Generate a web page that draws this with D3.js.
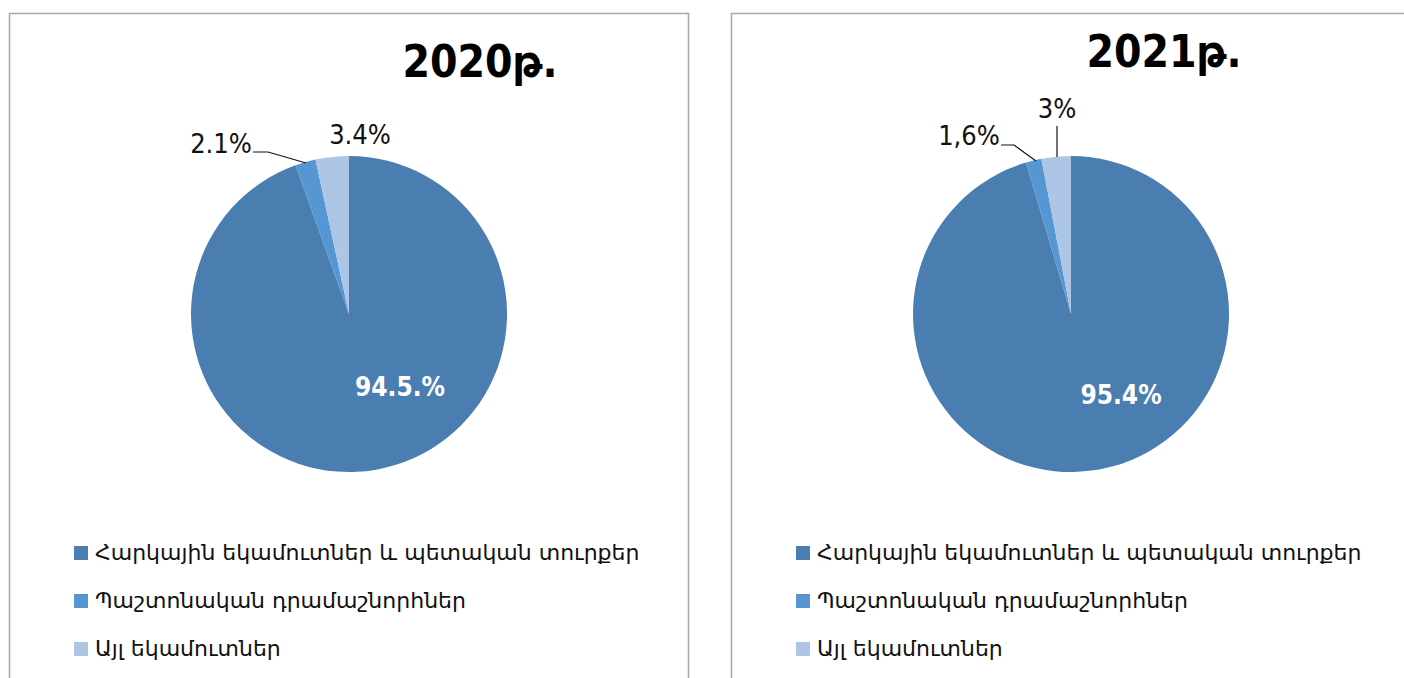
<!DOCTYPE html>
<html lang="hy">
<head>
<meta charset="UTF-8">
<script src="https://d3js.org/d3.v7.min.js"></script>
<style>
  body { margin: 0; background: #fff; font-family: "DejaVu Sans", sans-serif; }
  svg { display: block; }
</style>
</head>
<body>
<script>
// data
const years = ["2020թ.", "2021թ."];
const categories = ["Հարկային եկամուտներ և պետական տուրքեր", "Պաշտոնական դրամաշնորհներ", "Այլ եկամուտներ"];
const values2020 = [94.5, 2.1, 3.4];
const values2021 = [95.4, 1.6, 3.0];
const labels2020 = ["94.5.%", "2.1%", "3.4%"];
const labels2021 = ["95.4%", "1,6%", "3%"];
const colors = ["#4a7eb0", "#5596d3", "#aec6e6"];

const width = 1404, height = 678;
const svg = d3.select("body").append("svg").attr("width", width).attr("height", height);

// panels
const panels = [
  { x: 9, w: 680, title: years[0], tx: 480, ty: 77, cx: 349, cy: 314, values: values2020, labels: labels2020,
    inner: [400, 396], outs: [
      { text: [221, 153], line: [[253, 152], [268, 152], [306, 163]] },
      { text: [360, 144], line: null }
    ], legX: 74 },
  { x: 731, w: 700, title: years[1], tx: 1164, ty: 67, cx: 1071, cy: 314, values: values2021, labels: labels2021,
    inner: [1121, 404], outs: [
      { text: [969, 145], line: [[1001, 145], [1014, 145], [1036, 161]] },
      { text: [1057, 118], line: [[1057, 126], [1057, 157]] }
    ], legX: 796 }
];

const r = 158;
const pie = d3.pie().sort(null).value(d => d);
const arc = d3.arc().innerRadius(0).outerRadius(r);

panels.forEach(p => {
  const g = svg.append("g");
  // border (bottom cut off)
  g.append("path")
    .attr("d", `M${p.x + 0.5},${height + 2} V13.5 H${p.x + p.w - 0.5} V${height + 2}`)
    .attr("fill", "none").attr("stroke", "#a6a6a6").attr("stroke-width", 1.5);

  g.append("text")
    .attr("x", p.tx).attr("y", p.ty)
    .attr("text-anchor", "middle")
    .style("font-family", "'DejaVu Sans Condensed', 'DejaVu Sans', sans-serif")
    .style("font-weight", "bold").style("font-size", "44px")
    .text(p.title);

  const pg = g.append("g").attr("transform", `translate(${p.cx},${p.cy})`);
  pg.selectAll("path").data(pie(p.values)).join("path")
    .attr("d", arc)
    .attr("fill", (d, i) => colors[i]);

  g.append("text")
    .attr("x", p.inner[0]).attr("y", p.inner[1])
    .attr("text-anchor", "middle")
    .attr("fill", "#fff")
    .style("font-family", "'DejaVu Sans Condensed', 'DejaVu Sans', sans-serif")
    .style("font-weight", "bold").style("font-size", "26px")
    .text(p.labels[0]);

  p.outs.forEach((o, i) => {
    g.append("text")
      .attr("x", o.text[0]).attr("y", o.text[1])
      .attr("text-anchor", "middle")
      .style("font-family", "'DejaVu Sans Condensed', 'DejaVu Sans', sans-serif")
      .style("font-weight", "300").style("font-size", "27px")
      .attr("fill", "#111")
      .text(p.labels[i + 1]);
    if (o.line) {
      g.append("path")
        .attr("d", d3.line()(o.line))
        .attr("fill", "none").attr("stroke", "#111").attr("stroke-width", 1.2);
    }
  });

  const leg = g.selectAll(".leg").data(categories).join("g")
    .attr("transform", (d, i) => `translate(${p.legX},${546 + i * 48})`);
  leg.append("rect").attr("width", 14).attr("height", 14).attr("fill", (d, i) => colors[i]);
  leg.append("text")
    .attr("x", 21).attr("y", 14)
    .style("font-size", "22px").attr("fill", "#111")
    .text(d => d);
});
</script>
</body>
</html>
